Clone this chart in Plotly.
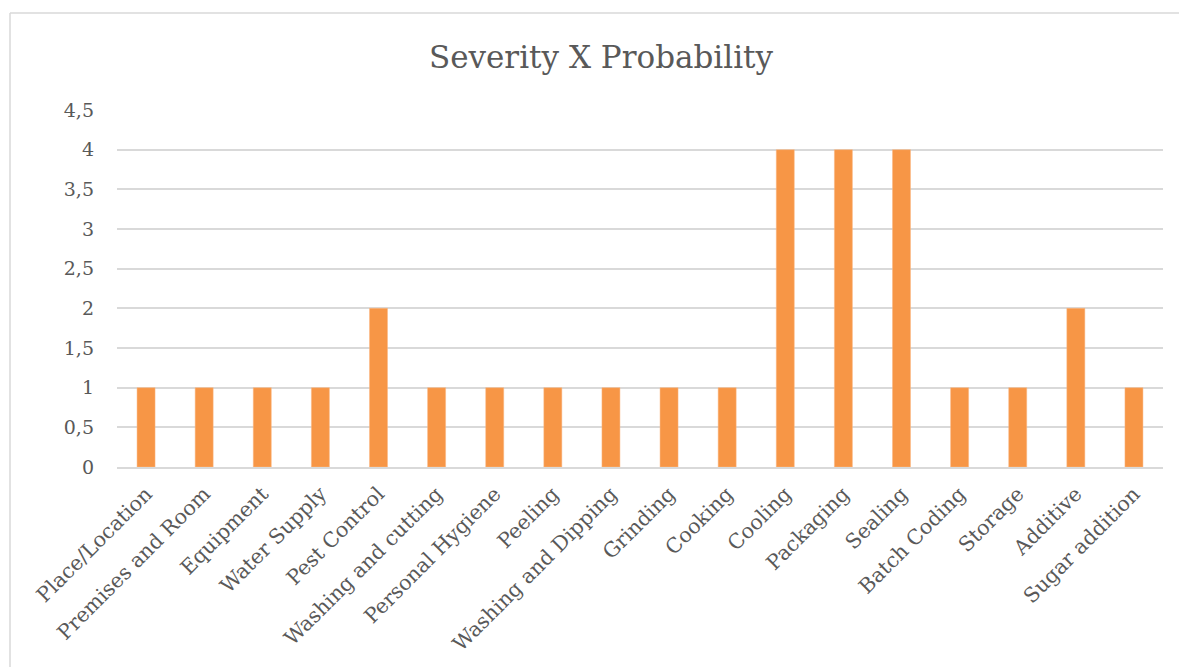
import plotly.graph_objects as go

categories = ["Place/Location", "Premises and Room", "Equipment", "Water Supply",
              "Pest Control", "Washing and cutting", "Personal Hygiene", "Peeling",
              "Washing and Dipping", "Grinding", "Cooking", "Cooling", "Packaging",
              "Sealing", "Batch Coding", "Storage", "Additive", "Sugar addition"]
values = [1, 1, 1, 1, 2, 1, 1, 1, 1, 1, 1, 4, 4, 4, 1, 1, 2, 1]
y_ticks = [0, 0.5, 1, 1.5, 2, 2.5, 3, 3.5, 4, 4.5]

W, H = 1179, 667
L, R, T, B = 117, 16, 110, 200
pw, ph = W - L - R, H - T - B

def px(x):
    return (x - L) / pw

def py(y):
    return (H - B - y) / ph

font = "DejaVu Serif"
grey = "#595959"

fig = go.Figure(go.Bar(
    x=categories, y=values,
    marker=dict(color="#F79646", line=dict(color="#FBB985", width=0.5)),
    width=0.31,
))

fig.update_layout(
    width=W, height=H,
    margin=dict(l=L, r=R, t=T, b=B, pad=0),
    paper_bgcolor="white", plot_bgcolor="white",
    separators=", ",
    showlegend=False,
    title=dict(text="Severity X Probability", xref="container", x=601 / W, xanchor="center",
               y=1 - 57 / H, yanchor="middle",
               font=dict(family=font, size=31, color=grey)),
    font=dict(family=font, size=20, color=grey),
    xaxis=dict(tickangle=-45, showgrid=False, showline=True, linecolor="#d9d9d9",
               linewidth=1.5, ticks="", ticklabelstandoff=5,
               tickfont=dict(family=font, size=20.5, color=grey),
               range=[-0.5, len(categories) - 0.5]),
    yaxis=dict(range=[0, 4.5], tickvals=y_ticks, showgrid=True, gridcolor="#d9d9d9",
               gridwidth=1.5, zeroline=False, showline=False, ticks="",
               ticklabelstandoff=22,
               tickfont=dict(family=font, size=19, color=grey)),
    shapes=[
        dict(type="line", xref="paper", yref="paper", x0=px(10), x1=px(1185),
             y0=py(13), y1=py(13), line=dict(color="#d9d9d9", width=1.5)),
        dict(type="line", xref="paper", yref="paper", x0=px(10), x1=px(10),
             y0=py(13), y1=py(690), line=dict(color="#d9d9d9", width=1.5)),
    ],
)

fig.write_html("out.html")
